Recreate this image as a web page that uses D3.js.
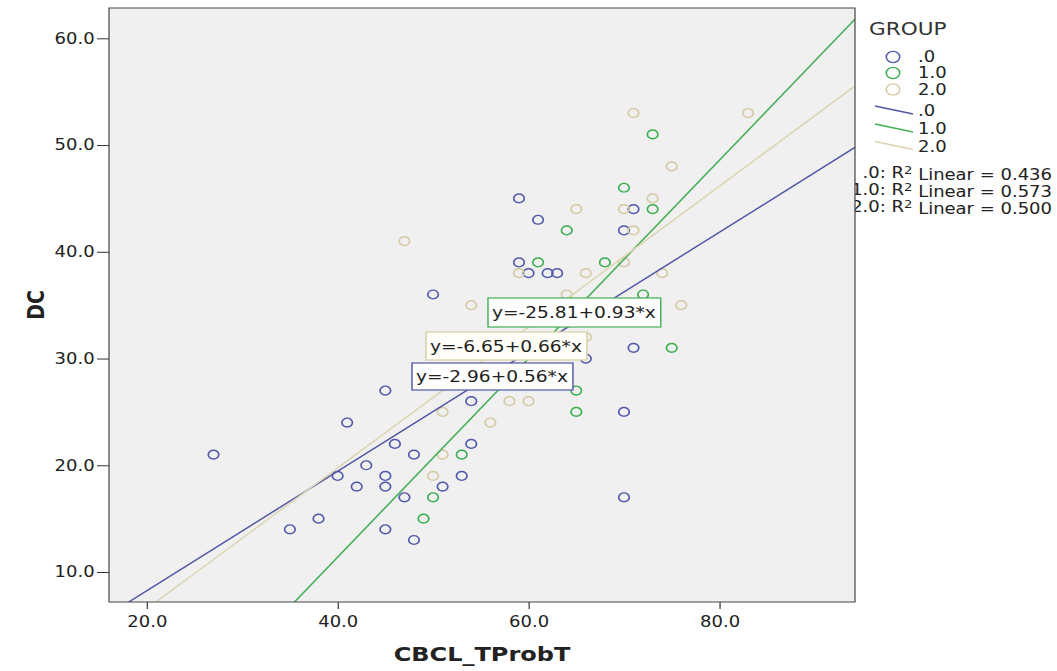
<!DOCTYPE html>
<html>
<head>
<meta charset="utf-8">
<script src="https://cdn.jsdelivr.net/npm/d3@7"></script>
<style>
  html, body { margin: 0; padding: 0; background: #fff; }
  svg { display: block; }
  text { font-family: 'DejaVu Sans', sans-serif; fill: #222; }
</style>
</head>
<body>
<script>
const groups = ['.0', '1.0', '2.0'];
const colors = ['#5059aa', '#3aae50', '#d6c9a2'];
const lineColors = ['#5157a4', '#44b055', '#ddd5b2'];

// CBCL_TProbT / DC per group
const group0X = [27, 35, 38, 40, 41, 42, 43, 45, 45, 45, 45, 46, 47, 48, 48, 50, 51, 53, 54, 54, 59, 59, 60, 61, 62, 63, 66, 70, 70, 70, 71, 71];
const group0Y = [21, 14, 15, 19, 24, 18, 20, 27, 19, 18, 14, 22, 17, 21, 13, 36, 18, 19, 22, 26, 45, 39, 38, 43, 38, 38, 30, 42, 25, 17, 44, 31];
const group1X = [49, 50, 53, 61, 64, 65, 65, 68, 70, 72, 73, 73, 75];
const group1Y = [15, 17, 21, 39, 42, 27, 25, 39, 46, 36, 51, 44, 31];
const group2X = [47, 50, 51, 51, 54, 56, 58, 59, 60, 64, 65, 66, 66, 70, 70, 71, 71, 73, 74, 75, 76, 83];
const group2Y = [41, 19, 21, 25, 35, 24, 26, 38, 26, 36, 44, 38, 32, 44, 39, 53, 42, 45, 38, 48, 35, 53];

const intercepts = [-2.96, -25.81, -6.65];
const slopes = [0.56, 0.93, 0.66];
const rSquared = ['0.436', '0.573', '0.500'];

const xTicks = [20, 40, 60, 80];
const yTicks = [10, 20, 30, 40, 50, 60];
const xDomain = [16.05, 94.2];
const yDomain = [7.19, 62.84];

// the picture is stretched sideways, so draw in narrower units and stretch back
const sx = 1.2;
const px = (v) => v / sx;
const W = 1057;
const H = 671;

const plot = { left: px(109), right: px(855), top: 8, bottom: 602 };

const svg = d3
  .select('body')
  .append('svg')
  .attr('width', W)
  .attr('height', H)
  .attr('viewBox', `0 0 ${W / sx} ${H}`)
  .attr('preserveAspectRatio', 'none');

const xScale = d3.scaleLinear().domain(xDomain).range([plot.left, plot.right]);
const yScale = d3.scaleLinear().domain(yDomain).range([plot.bottom, plot.top]);

const series = [
  { xs: group0X, ys: group0Y },
  { xs: group1X, ys: group1Y },
  { xs: group2X, ys: group2Y },
].map((s, i) => ({
  group: groups[i],
  color: colors[i],
  lineColor: lineColors[i],
  points: s.xs.map((x, j) => ({ x: x, y: s.ys[j] })),
  a: intercepts[i],
  b: slopes[i],
  r2: rSquared[i],
}));

// Legend (drawn first, the plot frame covers its overflow)
const legend = svg.append('g').attr('class', 'legend');
legend
  .append('text')
  .attr('x', px(869))
  .attr('y', 35)
  .style('font-size', '18px')
  .style('fill', '#333')
  .text('GROUP');

const circleRows = [57, 73, 89.5];
const lineRows = [111, 129, 146.5];

legend
  .selectAll('circle.key')
  .data(series)
  .enter()
  .append('circle')
  .attr('class', 'key')
  .attr('cx', px(893))
  .attr('cy', (d, i) => circleRows[i])
  .attr('r', 5.6)
  .attr('fill', 'none')
  .attr('stroke', (d) => d.color)
  .attr('stroke-width', 1.3);

legend
  .selectAll('text.ckey')
  .data(series)
  .enter()
  .append('text')
  .attr('class', 'ckey')
  .attr('x', px(918))
  .attr('y', (d, i) => circleRows[i])
  .attr('dy', '0.36em')
  .style('font-size', '15px')
  .text((d) => d.group);

legend
  .selectAll('line.key')
  .data(series)
  .enter()
  .append('line')
  .attr('class', 'key')
  .attr('x1', px(875))
  .attr('x2', px(913))
  .attr('y1', (d, i) => lineRows[i] - 5)
  .attr('y2', (d, i) => lineRows[i] + 3)
  .attr('stroke', (d) => d.lineColor)
  .attr('stroke-width', 1.3);

legend
  .selectAll('text.lkey')
  .data(series)
  .enter()
  .append('text')
  .attr('class', 'lkey')
  .attr('x', px(918))
  .attr('y', (d, i) => lineRows[i])
  .attr('dy', '0.36em')
  .style('font-size', '15px')
  .text((d) => d.group);

const r2Rows = [173, 190, 207];
const r2Text = legend
  .selectAll('text.r2')
  .data(series)
  .enter()
  .append('text')
  .attr('class', 'r2')
  .attr('x', px(1052))
  .attr('y', (d, i) => r2Rows[i])
  .attr('dy', '0.36em')
  .attr('text-anchor', 'end')
  .style('font-size', '15px');
r2Text.append('tspan').text((d) => d.group + ': R');
r2Text
  .append('tspan')
  .attr('dy', '-0.4em')
  .style('font-size', '11px')
  .text('2');
r2Text
  .append('tspan')
  .attr('dy', '0.4em')
  .text((d) => ' Linear = ' + d.r2);

// Plot area
svg
  .append('rect')
  .attr('x', plot.left)
  .attr('y', plot.top)
  .attr('width', plot.right - plot.left)
  .attr('height', plot.bottom - plot.top)
  .attr('fill', '#f0f0f0');

svg
  .append('clipPath')
  .attr('id', 'clip')
  .append('rect')
  .attr('x', plot.left)
  .attr('y', plot.top)
  .attr('width', plot.right - plot.left)
  .attr('height', plot.bottom - plot.top);

const inner = svg.append('g').attr('clip-path', 'url(#clip)');

// points
series.forEach((s) => {
  inner
    .append('g')
    .selectAll('circle')
    .data(s.points)
    .enter()
    .append('circle')
    .attr('cx', (d) => xScale(d.x))
    .attr('cy', (d) => yScale(d.y))
    .attr('r', 4.4)
    .attr('fill', 'none')
    .attr('stroke', s.color)
    .attr('stroke-width', 1.4);
});

// fit lines
const fitLine = d3
  .line()
  .x((d) => xScale(d[0]))
  .y((d) => yScale(d[1]));

inner
  .selectAll('path.fit')
  .data(series)
  .enter()
  .append('path')
  .attr('class', 'fit')
  .attr('d', (s) => fitLine(xDomain.map((x) => [x, s.a + s.b * x])))
  .attr('fill', 'none')
  .attr('stroke', (s) => s.lineColor)
  .attr('stroke-width', 1.4);

// frame
svg
  .append('rect')
  .attr('x', plot.left)
  .attr('y', plot.top)
  .attr('width', plot.right - plot.left)
  .attr('height', plot.bottom - plot.top)
  .attr('fill', 'none')
  .attr('stroke', '#444')
  .attr('stroke-width', 1);

// equation labels
const boxSpots = [
  { x: 412, y: 363, h: 27 },
  { x: 488, y: 298, h: 29 },
  { x: 426, y: 332, h: 28 },
];
const fmt = (v) => v.toFixed(2);
[1, 2, 0].forEach((i) => {
  const s = series[i];
  const spot = boxSpots[i];
  const g = svg.append('g').attr('class', 'eq');
  const rect = g
    .append('rect')
    .attr('x', px(spot.x))
    .attr('y', spot.y)
    .attr('height', spot.h)
    .attr('fill', i === 2 ? '#fffef8' : '#ffffff')
    .attr('stroke', i === 2 ? '#d8cfa6' : s.lineColor)
    .attr('stroke-width', 1.2);
  const t = g
    .append('text')
    .attr('x', px(spot.x) + px(4))
    .attr('y', spot.y + spot.h / 2)
    .attr('dy', '0.36em')
    .style('font-size', '15.5px')
    .text('y=' + fmt(s.a) + '+' + fmt(s.b) + '*x');
  rect.attr('width', t.node().getComputedTextLength() + px(9));
});

// axes
const xAxis = d3
  .axisBottom(xScale)
  .tickValues(xTicks)
  .tickFormat((d) => d.toFixed(1))
  .tickSize(7)
  .tickPadding(7);

const yAxis = d3
  .axisLeft(yScale)
  .tickValues(yTicks)
  .tickFormat((d) => d.toFixed(1))
  .tickSize(px(12))
  .tickPadding(2);

const gx = svg
  .append('g')
  .attr('transform', `translate(0,${plot.bottom})`)
  .call(xAxis);
const gy = svg
  .append('g')
  .attr('transform', `translate(${plot.left},0)`)
  .call(yAxis);

[gx, gy].forEach((g) => {
  g.select('.domain').remove();
  g.selectAll('.tick line').attr('stroke', '#333');
  g.selectAll('.tick text')
    .style('font-size', '15px')
    .style('font-family', "'DejaVu Sans', sans-serif")
    .attr('fill', '#333');
});

// axis titles
svg
  .append('text')
  .attr('x', (plot.left + plot.right) / 2)
  .attr('y', 661)
  .attr('text-anchor', 'middle')
  .style('font-size', '20px')
  .style('font-weight', 'bold')
  .text('CBCL_TProbT');

svg
  .append('text')
  .attr('transform', `translate(${px(44)},${(plot.top + plot.bottom) / 2})rotate(-90)`)
  .attr('text-anchor', 'middle')
  .style('font-size', '19px')
  .style('font-weight', 'bold')
  .text('DC');
</script>
</body>
</html>
